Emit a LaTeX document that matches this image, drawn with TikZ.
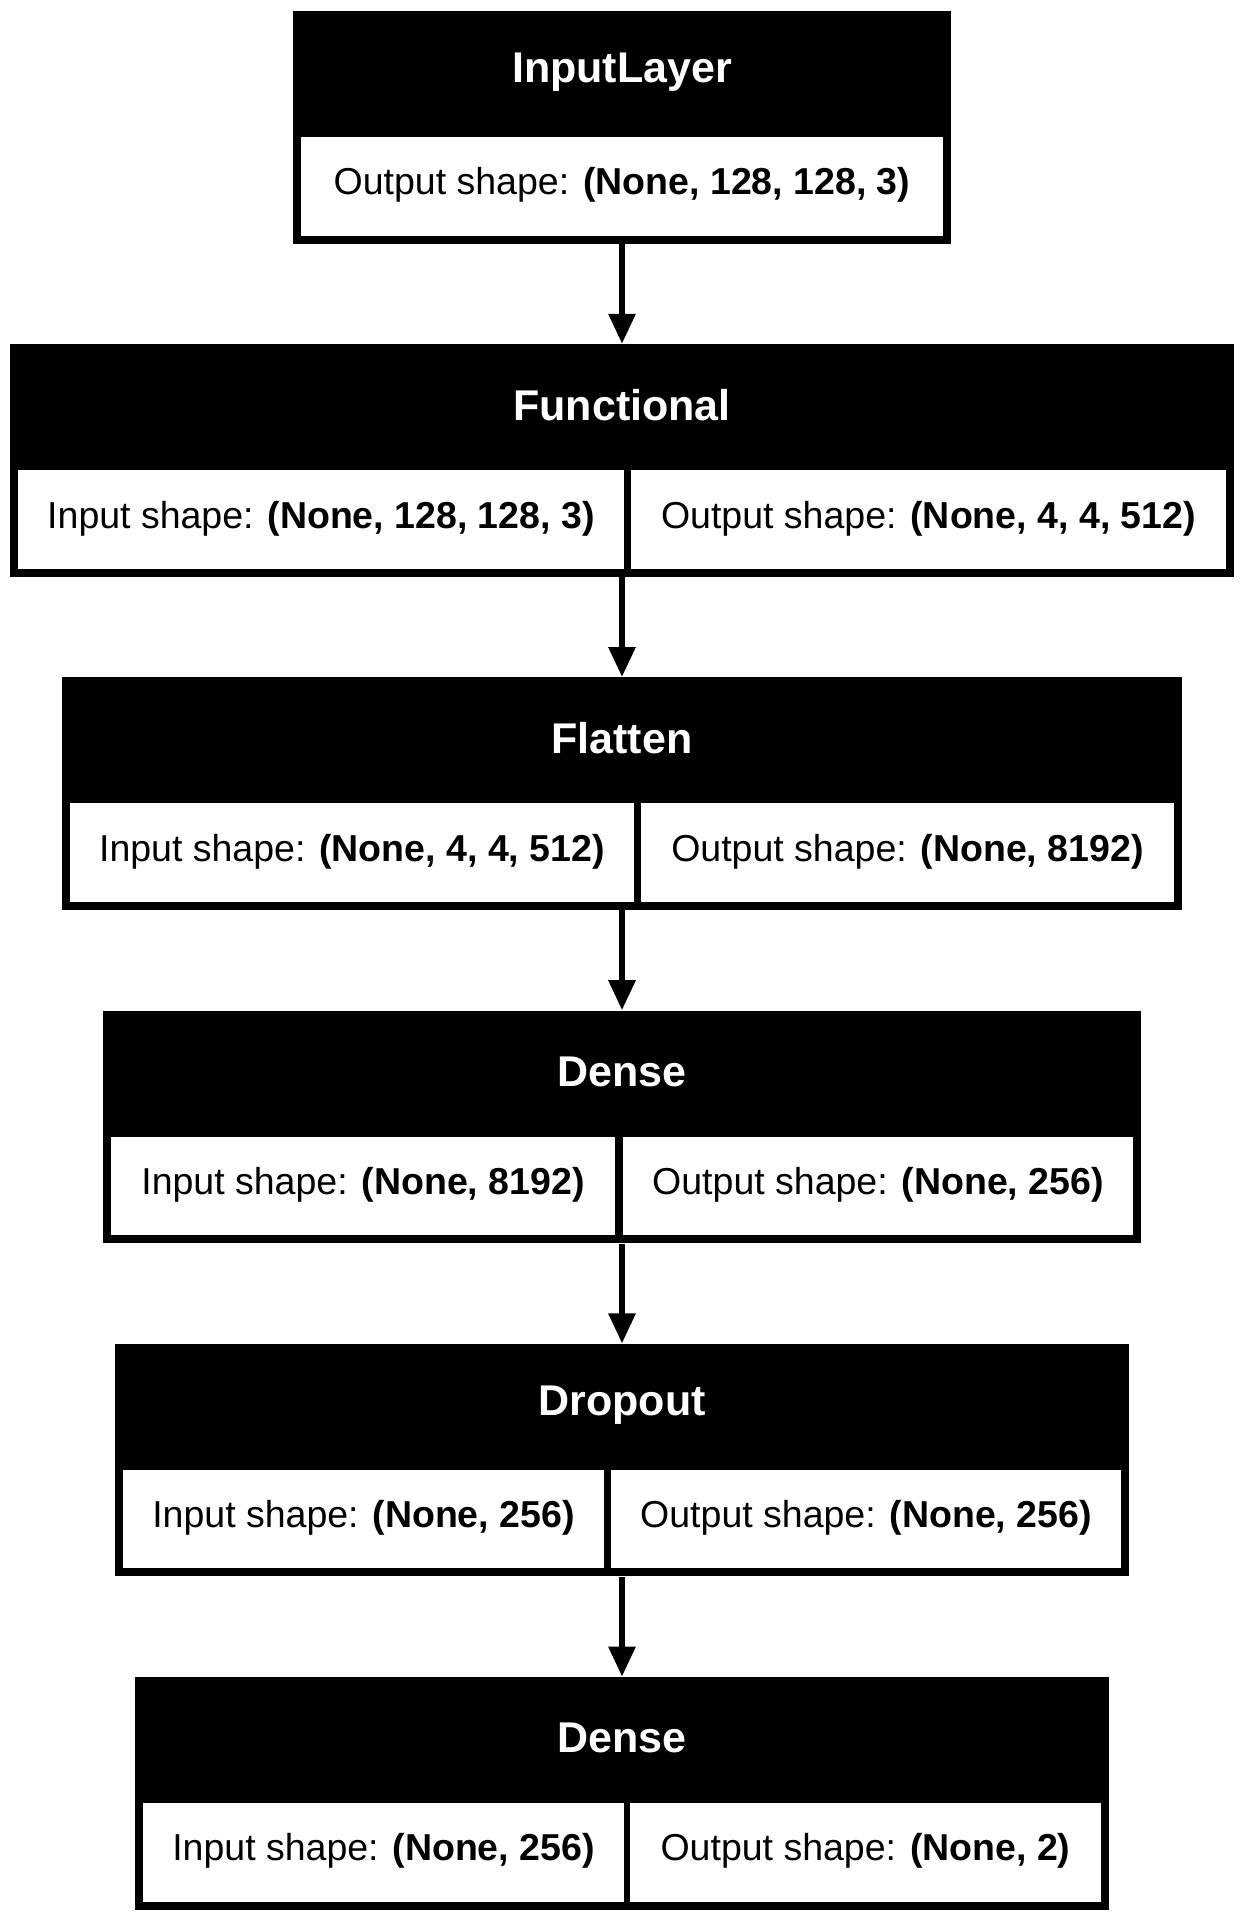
\documentclass[tikz,border=0pt]{standalone}
\usepackage{fontspec}
\setmainfont{Liberation Sans}
\usetikzlibrary{fit,arrows.meta}
\newcommand\kbodyfont{\fontsize{18.75}{22}\selectfont}
\newcommand\ktitlefont{\fontsize{21.5}{25}\selectfont\bfseries}
\tikzset{
  layerbox/.style={fill=black, draw=none, inner sep=0pt},
  cellbox/.style={fill=white, draw=none, inner sep=0pt},
  celltext/.style={font=\kbodyfont, inner sep=0pt},
  titletext/.style={text=white, font=\ktitlefont, inner sep=0pt},
  flow/.style={line width=3pt, -{Triangle[length=15pt,width=13pt]}},
}
\begin{document}
\begin{tikzpicture}[x=0.5pt,y=-0.5pt]
\useasboundingbox (0,0) rectangle (1244,1922);
% InputLayer
\node[layerbox, fit={(293,11) (951,243.5)}] (L0) {};
\node[titletext] (T0) at (622,72) {InputLayer};
\node[cellbox, fit={(301,137) (943,235.5)}] (L0o) {};
\node[celltext] (X0o) at ([yshift=0.5pt]L0o.center) {Output shape: \textbf{(None, 128, 128, 3)}};
% Functional
\node[layerbox, fit={(10,344.2) (1234,576.7)}] (L1) {};
\node[titletext] (T1) at (622,405.2) {Functional};
\node[cellbox, fit={(18,470.2) (624,568.7)}] (L1i) {};
\node[cellbox, fit={(631,470.2) (1226,568.7)}] (L1o) {};
\node[celltext] (X1i) at ([yshift=0.5pt]L1i.center) {Input shape: \textbf{(None, 128, 128, 3)}};
\node[celltext] (X1o) at ([yshift=0.5pt]L1o.center) {Output shape: \textbf{(None, 4, 4, 512)}};
% Flatten
\node[layerbox, fit={(62,677.4) (1182,909.9)}] (L2) {};
\node[titletext] (T2) at (622,738.4) {Flatten};
\node[cellbox, fit={(70,803.4) (634,901.9)}] (L2i) {};
\node[cellbox, fit={(641,803.4) (1174,901.9)}] (L2o) {};
\node[celltext] (X2i) at ([yshift=0.5pt]L2i.center) {Input shape: \textbf{(None, 4, 4, 512)}};
\node[celltext] (X2o) at ([yshift=0.5pt]L2o.center) {Output shape: \textbf{(None, 8192)}};
% Dense
\node[layerbox, fit={(103,1010.6) (1141,1243.1)}] (L3) {};
\node[titletext] (T3) at (622,1071.6) {Dense};
\node[cellbox, fit={(111,1136.6) (615,1235.1)}] (L3i) {};
\node[cellbox, fit={(623,1136.6) (1133,1235.1)}] (L3o) {};
\node[celltext] (X3i) at ([yshift=0.5pt]L3i.center) {Input shape: \textbf{(None, 8192)}};
\node[celltext] (X3o) at ([yshift=0.5pt]L3o.center) {Output shape: \textbf{(None, 256)}};
% Dropout
\node[layerbox, fit={(115,1343.8) (1129,1576.3)}] (L4) {};
\node[titletext] (T4) at (622,1404.8) {Dropout};
\node[cellbox, fit={(123,1469.8) (604,1568.3)}] (L4i) {};
\node[cellbox, fit={(611,1469.8) (1121,1568.3)}] (L4o) {};
\node[celltext] (X4i) at ([yshift=0.5pt]L4i.center) {Input shape: \textbf{(None, 256)}};
\node[celltext] (X4o) at ([yshift=0.5pt]L4o.center) {Output shape: \textbf{(None, 256)}};
% Dense
\node[layerbox, fit={(135,1677) (1109,1909.5)}] (L5) {};
\node[titletext] (T5) at (622,1738) {Dense};
\node[cellbox, fit={(143,1803) (624,1901.5)}] (L5i) {};
\node[cellbox, fit={(630,1803) (1101,1901.5)}] (L5o) {};
\node[celltext] (X5i) at ([yshift=0.5pt]L5i.center) {Input shape: \textbf{(None, 256)}};
\node[celltext] (X5o) at ([yshift=0.5pt]L5o.center) {Output shape: \textbf{(None, 2)}};
% connectors
\draw[flow] (L0.south) -- (L1.north);
\draw[flow] (L1.south) -- (L2.north);
\draw[flow] (L2.south) -- (L3.north);
\draw[flow] (L3.south) -- (L4.north);
\draw[flow] (L4.south) -- (L5.north);
\end{tikzpicture}
\end{document}
